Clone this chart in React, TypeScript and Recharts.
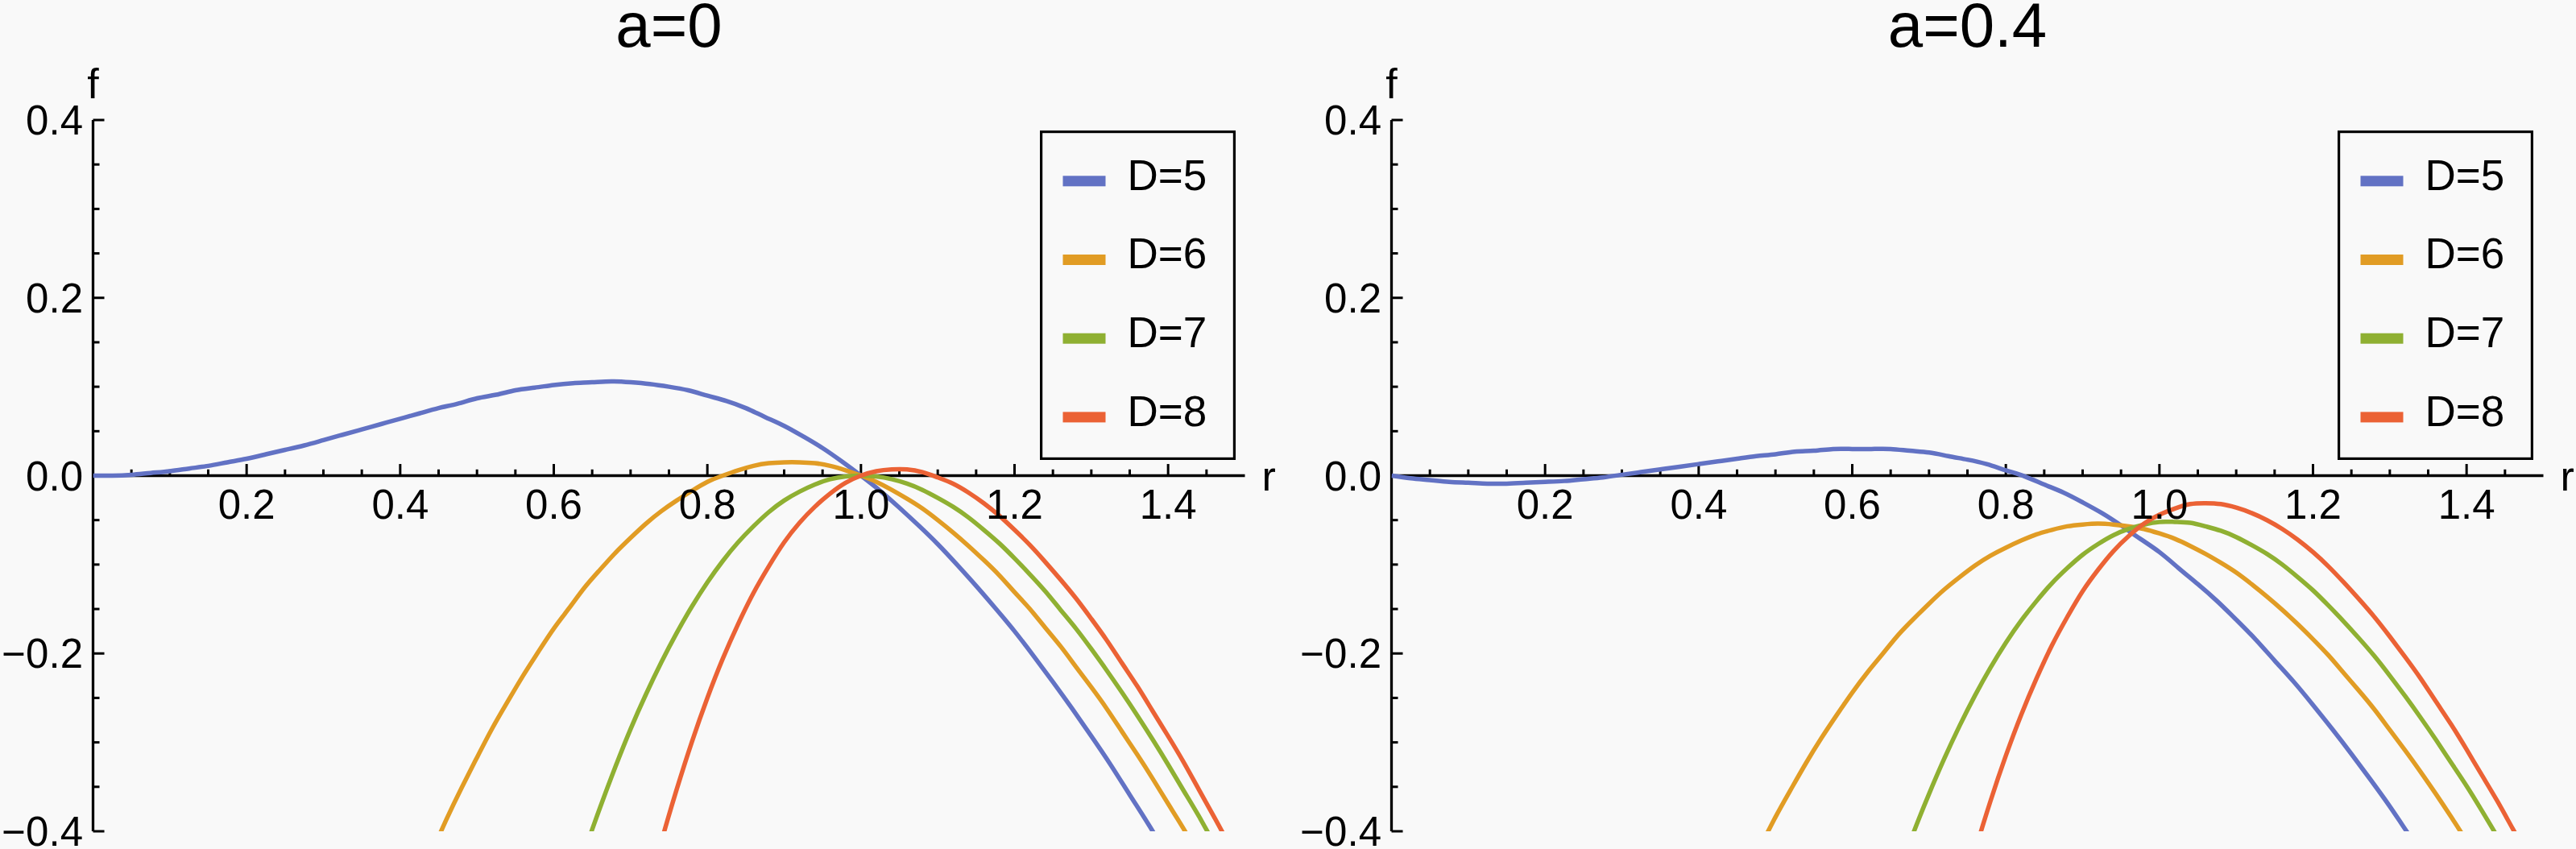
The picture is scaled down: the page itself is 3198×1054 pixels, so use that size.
import React from 'react';
import { LineChart, Line, XAxis, YAxis, ReferenceLine, Legend } from 'recharts';

// ---------- data ----------
const R5 = [0, 0.025, 0.05, 0.075, 0.1, 0.125, 0.15, 0.175, 0.2, 0.225, 0.25, 0.275, 0.3, 0.325, 0.35, 0.375, 0.4, 0.425, 0.45, 0.475, 0.5, 0.525, 0.55, 0.575, 0.6, 0.625, 0.65, 0.675, 0.7, 0.725, 0.75, 0.775, 0.8, 0.825, 0.85, 0.875, 0.9, 0.925, 0.95, 0.975, 1, 1.025, 1.05, 1.075, 1.1, 1.125, 1.15, 1.175, 1.2, 1.225, 1.25, 1.275, 1.3, 1.325, 1.35, 1.375, 1.4];
const R6 = [0.44, 0.46, 0.48, 0.5, 0.52, 0.54, 0.56, 0.58, 0.6, 0.62, 0.64, 0.66, 0.68, 0.7, 0.72, 0.74, 0.76, 0.78, 0.8, 0.82, 0.84, 0.86, 0.88, 0.9, 0.92, 0.94, 0.96, 0.98, 1, 1.02, 1.04, 1.06, 1.08, 1.1, 1.12, 1.14, 1.16, 1.18, 1.2, 1.22, 1.24, 1.26, 1.28, 1.3, 1.32, 1.34, 1.36, 1.38, 1.4, 1.42, 1.44];
const R7 = [0.62, 0.64, 0.66, 0.68, 0.7, 0.72, 0.74, 0.76, 0.78, 0.8, 0.82, 0.84, 0.86, 0.88, 0.9, 0.92, 0.94, 0.96, 0.98, 1, 1.02, 1.04, 1.06, 1.08, 1.1, 1.12, 1.14, 1.16, 1.18, 1.2, 1.22, 1.24, 1.26, 1.28, 1.3, 1.32, 1.34, 1.36, 1.38, 1.4, 1.42, 1.44, 1.46, 1.48];
const R8 = [0.72, 0.74, 0.76, 0.78, 0.8, 0.82, 0.84, 0.86, 0.88, 0.9, 0.92, 0.94, 0.96, 0.98, 1, 1.02, 1.04, 1.06, 1.08, 1.1, 1.12, 1.14, 1.16, 1.18, 1.2, 1.22, 1.24, 1.26, 1.28, 1.3, 1.32, 1.34, 1.36, 1.38, 1.4, 1.42, 1.44, 1.46, 1.48, 1.5];

// a = 0
const F0_D5 = [0, 0, 0.001, 0.003, 0.005, 0.008, 0.011, 0.015, 0.019, 0.024, 0.029, 0.034, 0.04, 0.046, 0.052, 0.058, 0.064, 0.07, 0.076, 0.081, 0.087, 0.091, 0.096, 0.099, 0.102, 0.104, 0.105, 0.106, 0.105, 0.103, 0.1, 0.096, 0.09, 0.084, 0.076, 0.066, 0.056, 0.044, 0.031, 0.016, 0, -0.017, -0.036, -0.056, -0.077, -0.1, -0.124, -0.149, -0.175, -0.203, -0.232, -0.262, -0.293, -0.325, -0.359, -0.393, -0.429];
const F0_D6 = [-0.426, -0.387, -0.351, -0.317, -0.284, -0.254, -0.225, -0.198, -0.172, -0.149, -0.126, -0.106, -0.087, -0.07, -0.054, -0.04, -0.028, -0.017, -0.007, 0, 0.006, 0.011, 0.014, 0.015, 0.015, 0.014, 0.011, 0.006, 0, -0.007, -0.016, -0.026, -0.037, -0.05, -0.064, -0.079, -0.095, -0.112, -0.131, -0.15, -0.171, -0.192, -0.215, -0.238, -0.262, -0.288, -0.314, -0.341, -0.369, -0.397, -0.427];
const F0_D7 = [-0.477, -0.423, -0.374, -0.328, -0.285, -0.246, -0.21, -0.177, -0.147, -0.12, -0.096, -0.075, -0.057, -0.041, -0.028, -0.018, -0.01, -0.004, -0.001, 0, -0.001, -0.004, -0.009, -0.016, -0.025, -0.035, -0.047, -0.061, -0.076, -0.093, -0.111, -0.13, -0.151, -0.172, -0.195, -0.219, -0.244, -0.27, -0.297, -0.325, -0.354, -0.383, -0.414, -0.445];
const F0_D8 = [-0.477, -0.412, -0.353, -0.299, -0.25, -0.206, -0.167, -0.132, -0.102, -0.075, -0.053, -0.035, -0.02, -0.008, 0, 0.005, 0.007, 0.007, 0.004, -0.002, -0.009, -0.019, -0.031, -0.045, -0.061, -0.078, -0.097, -0.117, -0.138, -0.161, -0.185, -0.211, -0.237, -0.265, -0.293, -0.322, -0.353, -0.384, -0.416, -0.449];

// a = 0.4
const F4_D5 = [0, -0.003, -0.005, -0.007, -0.008, -0.009, -0.009, -0.008, -0.007, -0.006, -0.004, -0.002, 0.001, 0.004, 0.007, 0.01, 0.013, 0.016, 0.019, 0.022, 0.024, 0.027, 0.028, 0.03, 0.03, 0.03, 0.03, 0.028, 0.026, 0.022, 0.018, 0.013, 0.006, -0.001, -0.01, -0.019, -0.03, -0.042, -0.056, -0.071, -0.086, -0.104, -0.122, -0.141, -0.162, -0.184, -0.208, -0.232, -0.258, -0.285, -0.313, -0.342, -0.372, -0.404, -0.436, -0.47, -0.505];
const F4_D6 = [-0.491, -0.453, -0.418, -0.384, -0.353, -0.323, -0.295, -0.269, -0.244, -0.221, -0.2, -0.179, -0.161, -0.144, -0.128, -0.114, -0.101, -0.09, -0.081, -0.073, -0.066, -0.061, -0.057, -0.055, -0.054, -0.055, -0.057, -0.06, -0.065, -0.071, -0.079, -0.088, -0.098, -0.109, -0.122, -0.136, -0.151, -0.167, -0.184, -0.202, -0.222, -0.242, -0.263, -0.286, -0.309, -0.333, -0.358, -0.384, -0.411, -0.439, -0.467];
const F4_D7 = [-0.553, -0.498, -0.448, -0.401, -0.358, -0.318, -0.281, -0.247, -0.216, -0.188, -0.163, -0.141, -0.121, -0.104, -0.089, -0.077, -0.067, -0.06, -0.055, -0.052, -0.052, -0.053, -0.057, -0.062, -0.069, -0.078, -0.088, -0.1, -0.114, -0.129, -0.146, -0.164, -0.183, -0.203, -0.225, -0.248, -0.272, -0.297, -0.323, -0.349, -0.377, -0.406, -0.436, -0.466];
const F4_D8 = [-0.55, -0.483, -0.422, -0.366, -0.315, -0.269, -0.228, -0.191, -0.159, -0.13, -0.106, -0.085, -0.068, -0.054, -0.044, -0.037, -0.032, -0.031, -0.032, -0.036, -0.042, -0.05, -0.06, -0.072, -0.086, -0.102, -0.12, -0.139, -0.159, -0.181, -0.204, -0.228, -0.254, -0.28, -0.308, -0.337, -0.366, -0.397, -0.428, -0.46];

const SERIES_NAMES = ['D=5', 'D=6', 'D=7', 'D=8'];
const PANEL_TITLES = ['a=0', 'a=0.4'];
const X_MAJOR = [0.2, 0.4, 0.6, 0.8, 1.0, 1.2, 1.4];
const X_LABELS = ['0.2', '0.4', '0.6', '0.8', '1.0', '1.2', '1.4'];
const X_MINOR = [0.05, 0.1, 0.15, 0.25, 0.3, 0.35, 0.45, 0.5, 0.55, 0.65, 0.7, 0.75, 0.85, 0.9, 0.95, 1.05, 1.1, 1.15, 1.25, 1.3, 1.35, 1.45];
const Y_MAJOR = [-0.4, -0.2, 0, 0.2, 0.4];
const Y_LABELS = ['\u22120.4', '\u22120.2', '0.0', '0.2', '0.4'];
const Y_MINOR = [-0.35, -0.3, -0.25, -0.15, -0.1, -0.05, 0.05, 0.1, 0.15, 0.25, 0.3, 0.35];

// ---------- style ----------
const COLORS = ['#6272C4', '#E19C24', '#8FB032', '#EB6235'];
const FONT = '"Liberation Sans", Arial, Helvetica, sans-serif';
const BG = '#F9F9F9';
const CHART_W = 1585.5;
const CHART_H = 1054;
const MARGIN = { top: 149, right: 40, bottom: 22, left: 115.5 };
const TICK_FONT = 51;
// tick lengths expressed in data units of the perpendicular axis
const XT_MAJOR = 0.0131;
const XT_MINOR = 0.007;
const YT_MAJOR = 0.0147;
const YT_MINOR = 0.0084;

const R_LISTS = [R5, R6, R7, R8];
const PANEL_SERIES = [
  [F0_D5, F0_D6, F0_D7, F0_D8],
  [F4_D5, F4_D6, F4_D7, F4_D8],
];

const zip = (rs: number[], fs: number[]) => rs.map((r, i) => ({ r, f: fs[i] }));

const lbl = (value: string, position: string, offset: number, fontSize = TICK_FONT) => ({
  value,
  position,
  offset,
  fill: '#000',
  fontSize,
  fontFamily: FONT,
});

const renderLegend = (props: any) => {
  const items = (props && props.payload) || [];
  return (
    <svg width={243} height={409} style={{ display: 'block', overflow: 'visible' }}>
      <rect x={1.6} y={1.6} width={239.8} height={405.8} fill="none" stroke="#000" strokeWidth={3.2} />
      {items.map((p: any, i: number) => (
        <g key={String(p.value)}>
          <rect x={28.5} y={56.3 + i * 97.7} width={53} height={13} fill={p.color} />
          <text x={108.5} y={73.5 + i * 97.7} fontSize={53} fontFamily={FONT} fill="#000">
            {p.value}
          </text>
        </g>
      ))}
    </svg>
  );
};

function Panel({ title, series, left }: { title: string; series: number[][]; left: number }) {
  return (
    <div style={{ position: 'absolute', left, top: 0, width: CHART_W, height: CHART_H }}>
      <LineChart width={CHART_W} height={CHART_H} margin={MARGIN}>
        <XAxis type="number" dataKey="r" domain={[0, 1.5]} hide allowDataOverflow />
        <YAxis type="number" dataKey="f" domain={[-0.4, 0.4]} hide allowDataOverflow />

        {/* title */}
        <ReferenceLine y={0.4} stroke="none" ifOverflow="visible" label={lbl(title, 'top', 91, 78)} />

        {/* axes */}
        <ReferenceLine x={0} stroke="#000" strokeWidth={3.3} ifOverflow="visible" label={lbl('f', 'top', 27, 52)} />
        <ReferenceLine y={0} stroke="#000" strokeWidth={3.3} ifOverflow="visible" label={lbl('r', 'right', 21, 52)} />

        {/* x ticks */}
        {X_MINOR.map((v) => (
          <ReferenceLine
            key={'xm' + v}
            segment={[{ x: v, y: 0 }, { x: v, y: XT_MINOR }]}
            stroke="#000"
            strokeWidth={3}
            ifOverflow="visible"
          />
        ))}
        {X_MAJOR.map((v, i) => (
          <ReferenceLine
            key={'xM' + v}
            segment={[{ x: v, y: 0 }, { x: v, y: XT_MAJOR }]}
            stroke="#000"
            strokeWidth={3}
            ifOverflow="visible"
            label={lbl(X_LABELS[i], 'bottom', 17.5)}
          />
        ))}

        {/* y ticks */}
        {Y_MINOR.map((v) => (
          <ReferenceLine
            key={'ym' + v}
            segment={[{ x: 0, y: v }, { x: YT_MINOR, y: v }]}
            stroke="#000"
            strokeWidth={3}
            ifOverflow="visible"
          />
        ))}
        {Y_MAJOR.map((v, i) => (
          <ReferenceLine
            key={'yM' + v}
            segment={[{ x: 0, y: v }, { x: YT_MAJOR, y: v }]}
            stroke="#000"
            strokeWidth={3}
            ifOverflow="visible"
            label={lbl(Y_LABELS[i], 'left', 12.5)}
          />
        ))}

        {series.map((vals, i) => (
          <Line
            key={SERIES_NAMES[i]}
            name={SERIES_NAMES[i]}
            data={zip(R_LISTS[i], vals)}
            dataKey="f"
            type="natural"
            stroke={COLORS[i]}
            strokeWidth={5.5}
            dot={false}
            activeDot={false}
            isAnimationActive={false}
          />
        ))}

        <Legend
          content={renderLegend}
          layout="horizontal"
          verticalAlign="middle"
          align="center"
          wrapperStyle={{ left: 1290.5, top: 161.5, width: 243, height: 409 }}
        />
      </LineChart>
    </div>
  );
}

export default function App() {
  return (
    <div
      style={{
        position: 'absolute',
        left: 0,
        top: 0,
        width: 3198,
        height: 1054,
        background: BG,
        overflow: 'hidden',
        fontFamily: FONT,
      }}
    >
      <Panel title={PANEL_TITLES[0]} series={PANEL_SERIES[0]} left={0} />
      <Panel title={PANEL_TITLES[1]} series={PANEL_SERIES[1]} left={1611.5} />
    </div>
  );
}
